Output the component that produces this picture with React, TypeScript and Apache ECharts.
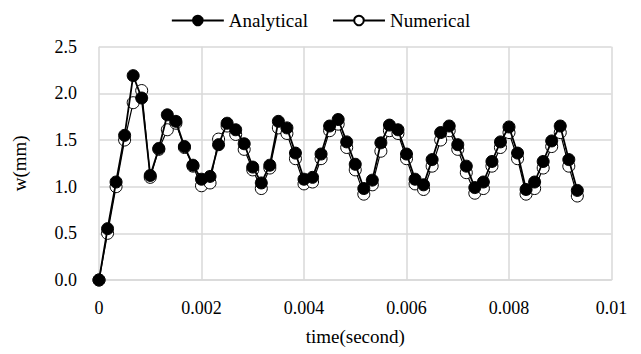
import React, { useEffect, useRef } from "react";
import * as echarts from "echarts";

const timeSec = [
  0, 0.000167, 0.000333, 0.0005, 0.000667, 0.000833, 0.001, 0.001167, 0.001333, 0.0015,
  0.001667, 0.001833, 0.002, 0.002167, 0.002333, 0.0025, 0.002667, 0.002833, 0.003, 0.003167,
  0.003333, 0.0035, 0.003667, 0.003833, 0.004, 0.004167, 0.004333, 0.0045, 0.004667, 0.004833,
  0.005, 0.005167, 0.005333, 0.0055, 0.005667, 0.005833, 0.006, 0.006167, 0.006333, 0.0065,
  0.006667, 0.006833, 0.007, 0.007167, 0.007333, 0.0075, 0.007667, 0.007833, 0.008, 0.008167,
  0.008333, 0.0085, 0.008667, 0.008833, 0.009, 0.009167, 0.009333,
];

const analytical = [
  0, 0.55, 1.05, 1.55, 2.19, 1.95, 1.12, 1.41, 1.77, 1.7,
  1.43, 1.23, 1.08, 1.11, 1.45, 1.68, 1.61, 1.46, 1.21, 1.04,
  1.23, 1.7, 1.63, 1.36, 1.08, 1.1, 1.35, 1.65, 1.72, 1.48,
  1.24, 0.98, 1.07, 1.47, 1.66, 1.61, 1.35, 1.08, 1.02, 1.29,
  1.58, 1.65, 1.45, 1.22, 0.99, 1.05, 1.27, 1.48, 1.64, 1.36,
  0.97, 1.05, 1.27, 1.49, 1.65, 1.29, 0.96,
];

const numerical = [
  0, 0.5, 1.0, 1.5, 1.9, 2.03, 1.1, 1.4, 1.61, 1.68,
  1.42, 1.22, 1.01, 1.04, 1.51, 1.65, 1.56, 1.4, 1.18, 0.98,
  1.2, 1.63, 1.57, 1.3, 1.03, 1.05, 1.3, 1.6, 1.67, 1.42,
  1.18, 0.92, 1.02, 1.38, 1.6, 1.57, 1.3, 1.03, 0.97, 1.22,
  1.5, 1.6, 1.4, 1.15, 0.93, 0.98, 1.22, 1.42, 1.58, 1.3,
  0.92, 0.98, 1.2, 1.43, 1.58, 1.22, 0.9,
];

const seriesNames = ["Analytical", "Numerical"];
const xTitle = "time(second)";
const yTitle = "w(mm)";

export default function App() {
  const ref = useRef<HTMLDivElement>(null);
  useEffect(() => {
    if (!ref.current) return;
    const chart = echarts.init(ref.current, null, { renderer: "svg" });
    const font = "'Liberation Serif', 'Times New Roman', serif";
    const grid = "#d9d9d9";
    const t = { fontFamily: font, fontSize: 18, color: "#000" };
    chart.setOption({
      animation: false,
      textStyle: { fontFamily: font },
      legend: {
        data: seriesNames,
        top: 6,
        left: "center",
        itemWidth: 52,
        itemHeight: 12,
        itemGap: 24,
        formatter: (n: string) => `{a|${n}}`,
        textStyle: { fontFamily: font, fontSize: 19, color: "#000", rich: { a: { ...t, fontSize: 19 } } },
      },
      grid: { left: 99, right: 29.5, top: 46.7, bottom: 74 },
      xAxis: {
        type: "value",
        min: 0,
        max: 0.01,
        interval: 0.002,
        name: xTitle,
        nameLocation: "middle",
        nameGap: 47,
        nameTextStyle: { fontFamily: font, fontSize: 19, color: "#000" },
        axisLine: { show: true, lineStyle: { color: grid, width: 1.5 } },
        axisTick: { show: false },
        axisLabel: {
          ...t,
          margin: 19,
          formatter: (v: number) => `{a|${+v.toFixed(4)}}`,
          rich: { a: t },
        },
        splitLine: { show: true, lineStyle: { color: grid, width: 1.5 } },
      },
      yAxis: {
        type: "value",
        min: 0,
        max: 2.5,
        interval: 0.5,
        name: yTitle,
        nameLocation: "middle",
        nameGap: 70,
        nameRotate: 90,
        nameTextStyle: { fontFamily: font, fontSize: 19, color: "#000" },
        axisLine: { show: false },
        axisTick: { show: false },
        axisLabel: {
          ...t,
          margin: 22,
          formatter: (v: number) => `{a|${v.toFixed(1)}}`,
          rich: { a: t },
        },
        splitLine: { show: true, lineStyle: { color: grid, width: 1.5 } },
      },
      series: [
        {
          name: "Numerical",
          type: "line",
          data: timeSec.map((tt, i) => [tt, numerical[i]]),
          symbol: "circle",
          symbolSize: 12,
          itemStyle: { color: "#fff", borderColor: "#000", borderWidth: 1 },
          lineStyle: { color: "#000", width: 1.2 },
          z: 2,
        },
        {
          name: "Analytical",
          type: "line",
          data: timeSec.map((tt, i) => [tt, analytical[i]]),
          symbol: "circle",
          symbolSize: 12,
          itemStyle: { color: "#000", borderColor: "#000", borderWidth: 1 },
          lineStyle: { color: "#000", width: 1.8 },
          z: 3,
        },
      ],
    });
    return () => chart.dispose();
  }, []);
  return (
    <div
      ref={ref}
      style={{ position: "fixed", left: 0, top: 0, width: 641, height: 354, background: "#fff" }}
    />
  );
}
